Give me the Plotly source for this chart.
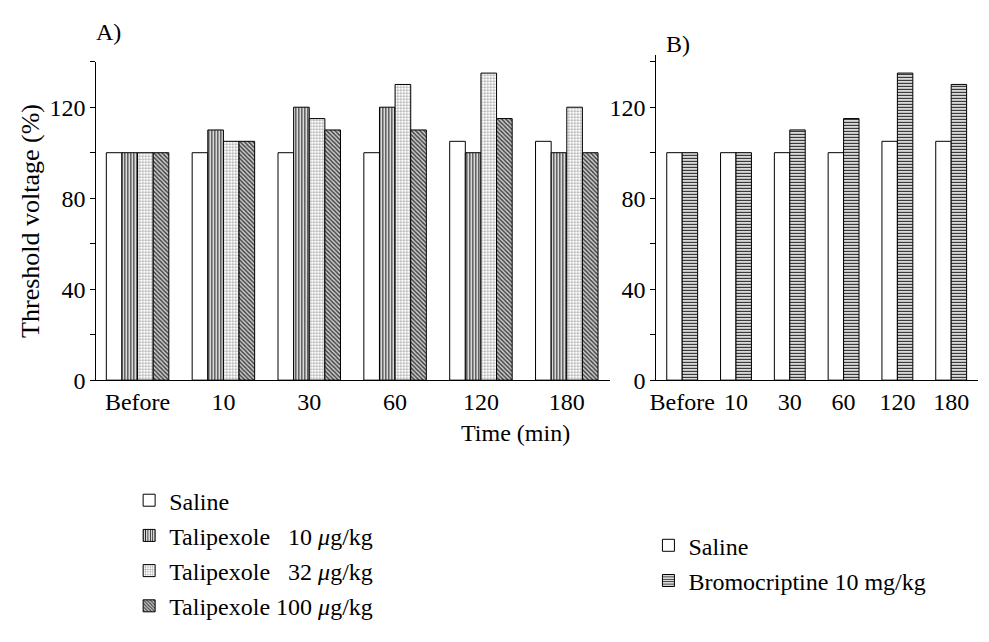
import plotly.graph_objects as go

# Time points
times = ["Before", "10", "30", "60", "120", "180"]

# Panel A: threshold voltage (% of pre-drug value)
saline_a = [100, 100, 100, 100, 105, 105]
tali_10 = [100, 110, 120, 120, 100, 100]
tali_32 = [100, 105, 115, 130, 135, 120]
tali_100 = [100, 105, 110, 110, 115, 100]

# Panel B
saline_b = [100, 100, 100, 100, 105, 105]
bromo_10 = [100, 100, 110, 115, 135, 130]

y_ticks = [0, 20, 40, 60, 80, 100, 120, 140]
y_labels = ["0", "", "40", "", "80", "", "120", ""]

FONT = "Liberation Serif"
W, H = 989, 642


def px_x(p):
    return p / W


def px_y(p):
    return 1 - p / H


fig = go.Figure()

line = dict(color="black", width=1)

series_a = [
    ("Saline", saline_a, dict(fillmode="overlay", shape="", bgcolor="white")),
    ("Talipexole \u200710 <i>\u03bc</i>g/kg", tali_10,
     dict(shape="|", size=3, solidity=0.45, fgcolor="#222", bgcolor="white", fillmode="replace")),
    ("Talipexole \u200732 <i>\u03bc</i>g/kg", tali_32,
     dict(shape="+", size=3, solidity=0.25, fgcolor="#777", bgcolor="white", fillmode="replace")),
    ("Talipexole 100 <i>\u03bc</i>g/kg", tali_100,
     dict(shape="\\", size=3, solidity=0.5, fgcolor="#444", bgcolor="#d0d0d0", fillmode="replace")),
]

wa = 0.182
for i, (name, vals, pat) in enumerate(series_a):
    fig.add_trace(go.Bar(
        x=times, y=vals, name=name, width=wa, offset=-2 * wa + i * wa,
        marker=dict(color="white", line=line, pattern=pat),
        xaxis="x", yaxis="y", legend="legend", legendgroup=f"a{i}",
    ))

wb = 0.287
series_b = [
    ("Saline", saline_b, dict(shape="", bgcolor="white")),
    ("Bromocriptine 10 mg/kg", bromo_10,
     dict(shape="-", size=3, solidity=0.45, fgcolor="#222", bgcolor="white", fillmode="replace")),
]
for i, (name, vals, pat) in enumerate(series_b):
    fig.add_trace(go.Bar(
        x=times, y=vals, name=name, width=wb, offset=-wb + i * wb,
        marker=dict(color="white", line=line, pattern=pat),
        xaxis="x2", yaxis="y2", legend="legend2", legendgroup=f"b{i}",
    ))

tick_font = dict(family=FONT, size=24, color="black")

xcommon = dict(
    type="category", showline=True, linecolor="black", linewidth=1,
    ticks="", showgrid=False, zeroline=False, tickfont=tick_font,
    range=[-0.48, 5.5], fixedrange=True,
)
ycommon = dict(
    showline=True, linecolor="black", linewidth=1, ticks="outside",
    ticklen=5, tickcolor="black", tickvals=y_ticks, ticktext=y_labels,
    showgrid=False, zeroline=False, tickfont=tick_font,
)

legend_common = dict(
    font=dict(family=FONT, size=24, color="black"),
    bgcolor="rgba(0,0,0,0)", tracegroupgap=1, itemclick=False,
    xanchor="left", yanchor="top", traceorder="grouped",
)

fig.update_layout(
    width=W, height=H,
    margin=dict(l=0, r=0, t=0, b=0),
    paper_bgcolor="white", plot_bgcolor="white",
    barmode="overlay",
    xaxis=dict(domain=[px_x(90), px_x(607)], anchor="y", **xcommon),
    yaxis=dict(domain=[px_y(388), px_y(63)], anchor="x", range=[0, 140],
               title=dict(text="Threshold voltage (%)",
                          font=dict(family=FONT, size=26, color="black"),
                          standoff=2),
               **ycommon),
    xaxis2=dict(domain=[px_x(654), px_x(978)], anchor="y2", **xcommon),
    yaxis2=dict(domain=[px_y(388), px_y(56)], anchor="x2", range=[0, 143],
                **ycommon),
    legend=dict(x=px_x(123), y=px_y(488), **legend_common),
    legend2=dict(x=px_x(646), y=px_y(534), **legend_common),
    showlegend=True,
    annotations=[
        dict(text="A)", x=px_x(88), y=px_y(33), xref="paper", yref="paper",
             showarrow=False, xanchor="left", yanchor="middle",
             font=dict(family=FONT, size=24, color="black")),
        dict(text="B)", x=px_x(662), y=px_y(45), xref="paper", yref="paper",
             showarrow=False, xanchor="left", yanchor="middle",
             font=dict(family=FONT, size=24, color="black")),
        dict(text="Time (min)", x=px_x(512), y=px_y(442), xref="paper", yref="paper",
             showarrow=False, xanchor="center", yanchor="middle",
             font=dict(family=FONT, size=24, color="black")),
    ],
)

fig.write_html("out.html")
